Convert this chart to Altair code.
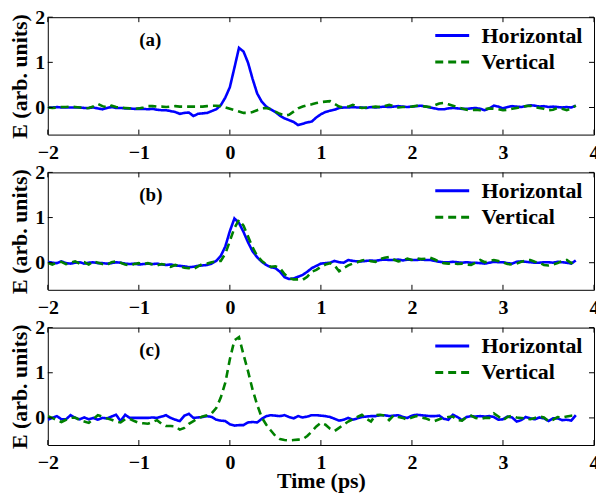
import altair as alt
import pandas as pd

T = [-2.00, -1.95, -1.90, -1.85, -1.80, -1.75, -1.70, -1.65, -1.60, -1.55,
     -1.50, -1.45, -1.40, -1.35, -1.30, -1.25, -1.20, -1.15, -1.10, -1.05,
     -1.00, -0.95, -0.90, -0.85, -0.80, -0.75, -0.70, -0.65, -0.60, -0.55,
     -0.50, -0.45, -0.40, -0.35, -0.30, -0.25, -0.20, -0.15, -0.10, -0.05,
     0.00, 0.05, 0.10, 0.15, 0.20, 0.25, 0.30, 0.35, 0.40, 0.45,
     0.50, 0.55, 0.60, 0.65, 0.70, 0.75, 0.80, 0.85, 0.90, 0.95,
     1.00, 1.05, 1.10, 1.15, 1.20, 1.25, 1.30, 1.35, 1.40, 1.45,
     1.50, 1.55, 1.60, 1.65, 1.70, 1.75, 1.80, 1.85, 1.90, 1.95,
     2.00, 2.05, 2.10, 2.15, 2.20, 2.25, 2.30, 2.35, 2.40, 2.45,
     2.50, 2.55, 2.60, 2.65, 2.70, 2.75, 2.80, 2.85, 2.90, 2.95,
     3.00, 3.05, 3.10, 3.15, 3.20, 3.25, 3.30, 3.35, 3.40, 3.45,
     3.50, 3.55, 3.60, 3.65, 3.70, 3.75, 3.80]

# Panel (a)
H_A = [0.00, 0.00, 0.01, 0.00, 0.00, 0.00, 0.00, 0.00, -0.01, -0.01,
       0.00, -0.02, -0.04, -0.01, 0.01, -0.01, -0.01, -0.02, -0.02, -0.03,
       -0.03, -0.03, -0.04, -0.03, -0.05, -0.06, -0.06, -0.08, -0.10, -0.14,
       -0.12, -0.11, -0.19, -0.14, -0.13, -0.12, -0.08, -0.04, 0.05, 0.22,
       0.45, 0.88, 1.32, 1.24, 0.99, 0.63, 0.31, 0.13, 0.02, -0.04,
       -0.10, -0.18, -0.24, -0.28, -0.32, -0.39, -0.36, -0.33, -0.31, -0.22,
       -0.15, -0.10, -0.07, -0.05, -0.01, 0.00, 0.00, 0.01, 0.00, 0.00,
       -0.01, 0.01, 0.00, 0.01, 0.02, 0.01, 0.02, 0.03, 0.02, 0.01,
       0.02, 0.03, 0.04, 0.02, 0.00, -0.02, -0.04, -0.04, -0.02, -0.01,
       -0.02, -0.03, -0.03, -0.02, -0.01, -0.03, -0.06, -0.02, 0.04, 0.02,
       -0.02, 0.01, 0.03, 0.02, 0.01, 0.03, 0.05, 0.04, 0.02, 0.03,
       0.01, 0.02, 0.01, 0.00, 0.01, 0.00, 0.04]
V_A = [0.00, -0.01, 0.00, 0.01, 0.01, 0.02, 0.01, 0.00, -0.02, -0.01,
       0.02, 0.08, 0.03, 0.00, 0.04, 0.01, 0.00, -0.01, -0.02, -0.03,
       -0.02, 0.00, 0.03, 0.03, 0.02, 0.02, 0.01, 0.02, 0.03, 0.02,
       0.02, 0.02, 0.02, 0.02, 0.02, 0.03, 0.04, 0.04, 0.03, 0.00,
       -0.03, -0.06, -0.09, -0.12, -0.12, -0.10, -0.06, -0.02, -0.01, -0.04,
       -0.09, -0.14, -0.18, -0.16, -0.09, -0.02, 0.02, 0.05, 0.07, 0.10,
       0.12, 0.13, 0.14, 0.08, 0.02, 0.00, 0.02, 0.06, 0.02, -0.01,
       0.00, 0.01, 0.02, 0.01, 0.03, 0.06, 0.03, 0.00, 0.01, 0.01,
       0.02, 0.04, 0.03, 0.02, 0.01, 0.05, 0.09, 0.10, 0.07, 0.04,
       0.01, -0.02, -0.05, -0.06, -0.05, -0.06, -0.04, -0.02, -0.03, -0.04,
       -0.06, -0.05, -0.03, -0.01, 0.01, 0.03, 0.04, 0.01, -0.01, -0.03,
       -0.06, -0.05, -0.01, -0.03, -0.06, -0.02, 0.04]

# Panel (b)
H_B = [0.02, 0.00, -0.01, 0.03, -0.01, -0.02, 0.00, 0.01, -0.02, 0.00,
       0.01, -0.01, -0.01, -0.02, -0.01, 0.01, 0.00, -0.02, -0.03, -0.02,
       -0.04, -0.03, -0.02, -0.03, -0.02, -0.04, -0.05, -0.04, -0.06, -0.07,
       -0.08, -0.10, -0.09, -0.07, -0.06, -0.05, -0.02, 0.04, 0.15, 0.36,
       0.70, 0.98, 0.88, 0.68, 0.45, 0.25, 0.12, 0.02, -0.05, -0.10,
       -0.12, -0.20, -0.32, -0.36, -0.35, -0.31, -0.27, -0.20, -0.12, -0.07,
       -0.02, -0.01, 0.00, 0.04, 0.01, 0.00, 0.06, 0.04, 0.03, 0.03,
       0.04, 0.05, 0.04, 0.06, 0.07, 0.06, 0.06, 0.07, 0.05, 0.07,
       0.06, 0.06, 0.07, 0.06, 0.06, 0.04, 0.02, 0.01, 0.01, 0.02,
       0.01, 0.00, 0.01, 0.00, 0.00, -0.01, -0.02, 0.00, 0.02, 0.01,
       0.01, -0.01, -0.02, 0.02, 0.03, 0.02, 0.01, 0.00, 0.00, 0.01,
       0.01, 0.00, 0.02, 0.01, 0.00, -0.02, 0.05]
V_B = [0.00, -0.04, 0.00, 0.02, -0.03, 0.00, 0.03, -0.02, 0.01, -0.04,
       0.03, 0.00, -0.03, -0.05, 0.01, 0.03, 0.00, -0.04, -0.06, -0.03,
       -0.01, -0.03, -0.01, -0.04, -0.06, -0.03, -0.05, -0.09, -0.05, -0.08,
       -0.11, -0.12, -0.14, -0.08, -0.03, -0.02, 0.01, 0.03, 0.04, 0.20,
       0.48, 0.77, 0.95, 0.82, 0.58, 0.34, 0.15, 0.04, -0.04, -0.09,
       -0.08, -0.12, -0.25, -0.34, -0.37, -0.37, -0.38, -0.31, -0.20, -0.16,
       -0.09, -0.04, -0.01, -0.06, -0.19, -0.12, -0.06, -0.02, 0.01, 0.05,
       0.07, 0.03, 0.02, 0.08, 0.11, 0.13, 0.07, 0.03, 0.05, 0.09,
       0.06, 0.10, 0.08, 0.09, 0.11, 0.07, 0.02, -0.01, -0.02, -0.01,
       -0.03, -0.02, -0.04, -0.05, 0.00, 0.06, 0.01, 0.04, 0.06, 0.04,
       0.01, -0.03, -0.04, -0.02, 0.02, 0.05, 0.06, 0.02, 0.00, -0.05,
       -0.06, -0.04, -0.01, 0.04, 0.06, -0.01, 0.05]

# Panel (c)
H_C = [-0.04, 0.00, 0.04, -0.03, -0.03, 0.06, 0.00, -0.03, 0.01, -0.03,
       0.00, -0.04, 0.00, -0.01, 0.03, 0.07, -0.07, 0.07, 0.00, 0.00,
       0.00, 0.00, 0.00, 0.01, 0.00, 0.03, 0.06, 0.00, -0.04, -0.07,
       0.05, 0.09, 0.00, 0.01, 0.02, 0.04, 0.02, -0.04, -0.06, -0.07,
       -0.14, -0.17, -0.16, -0.16, -0.10, -0.09, -0.10, -0.02, 0.04, 0.06,
       0.05, 0.04, 0.06, 0.02, -0.01, 0.04, 0.01, 0.03, 0.06, 0.06,
       0.05, 0.04, 0.02, -0.02, -0.06, -0.04, 0.00, -0.04, -0.01, 0.02,
       0.03, 0.04, 0.04, 0.06, 0.06, 0.04, 0.05, 0.06, 0.02, 0.00,
       0.05, 0.07, 0.06, 0.05, 0.04, 0.04, 0.05, -0.02, -0.04, 0.07,
       0.02, -0.05, 0.02, 0.04, 0.03, 0.04, 0.03, 0.04, 0.02, -0.04,
       -0.03, 0.03, 0.01, -0.08, -0.05, 0.02, -0.01, -0.03, 0.01, -0.01,
       -0.07, -0.01, -0.01, -0.05, -0.04, -0.06, 0.06]
V_C = [0.04, 0.00, -0.05, -0.09, -0.04, 0.00, 0.01, -0.05, -0.08, -0.11,
       -0.02, 0.06, 0.03, -0.01, -0.04, -0.08, -0.10, -0.03, -0.02, -0.07,
       -0.11, -0.12, -0.13, -0.09, -0.05, -0.13, -0.18, -0.18, -0.19, -0.26,
       -0.22, -0.13, -0.07, -0.01, 0.03, 0.06, 0.10, 0.22, 0.45, 0.78,
       1.30, 1.72, 1.79, 1.40, 1.03, 0.62, 0.29, 0.01, -0.15, -0.28,
       -0.40, -0.47, -0.49, -0.50, -0.49, -0.48, -0.47, -0.40, -0.30, -0.19,
       -0.11, -0.15, -0.24, -0.29, -0.22, -0.15, -0.08, -0.03, 0.02, 0.07,
       -0.02, -0.08, 0.06, 0.07, 0.05, -0.05, 0.06, 0.02, 0.00, -0.04,
       0.01, 0.04, 0.01, -0.01, -0.05, -0.07, -0.03, 0.00, 0.02, 0.03,
       -0.05, -0.06, 0.02, 0.05, 0.00, -0.02, 0.00, 0.00, 0.10, 0.03,
       -0.05, 0.02, 0.05, 0.01, 0.00, -0.02, -0.03, 0.00, 0.03, 0.01,
       -0.07, -0.04, 0.02, 0.01, 0.03, 0.05, 0.06]

SERIES = ["Horizontal", "Vertical"]
COLORS = ["#0000ff", "#008000"]
DASHES = [[1, 0], [8, 5]]
X_TICKS = [-2, -1, 0, 1, 2, 3, 4]
Y_TICKS = [0, 1, 2]
PANEL_LABELS = ["(a)", "(b)", "(c)"]

W, H = 549, 118
FONT = "Liberation Serif"
TICK = 5


def panel(h_vals, v_vals, label, last):
    n = len(T)
    df = pd.DataFrame({
        "t": T + T,
        "E": h_vals + v_vals,
        "series": [SERIES[0]] * n + [SERIES[1]] * n,
    })
    xenc = alt.X("t:Q", scale=alt.Scale(domain=[-2, 4], nice=False, zero=False),
                 axis=alt.Axis(values=X_TICKS, format="d", labelPadding=8,
                               labelFlush=False, titlePadding=-2),
                 title="Time (ps)" if last else None)
    yenc = alt.Y("E:Q", scale=alt.Scale(domain=[-0.6, 2], nice=False, zero=False),
                 axis=alt.Axis(values=Y_TICKS, format="d", labelPadding=3,
                               labelFlush=False, titlePadding=3),
                 title="E (arb. units)")
    lines = alt.Chart(df).mark_line(strokeWidth=2.6, clip=True).encode(
        x=xenc,
        y=yenc,
        color=alt.Color("series:N",
                        scale=alt.Scale(domain=SERIES, range=COLORS),
                        title=None),
        strokeDash=alt.StrokeDash("series:N",
                                  scale=alt.Scale(domain=SERIES, range=DASHES),
                                  title=None),
    )
    xt = pd.DataFrame({"t": X_TICKS})
    yt = pd.DataFrame({"E": Y_TICKS})
    rule = dict(color="black", strokeWidth=1)
    xb = alt.Chart(xt).mark_rule(**rule).encode(x=xenc, y=alt.value(H), y2=alt.value(H - TICK))
    xtp = alt.Chart(xt).mark_rule(**rule).encode(x=xenc, y=alt.value(0), y2=alt.value(TICK))
    yl = alt.Chart(yt).mark_rule(**rule).encode(y=yenc, x=alt.value(0), x2=alt.value(TICK))
    yr = alt.Chart(yt).mark_rule(**rule).encode(y=yenc, x=alt.value(W), x2=alt.value(W - TICK))
    lab = alt.Chart(pd.DataFrame({"label": [label]})).mark_text(
        font=FONT, fontSize=19, fontWeight="bold", color="black",
        align="left", baseline="alphabetic",
    ).encode(text="label:N", x=alt.value(92), y=alt.value(29))
    return alt.layer(lines, xb, xtp, yl, yr, lab).properties(width=W, height=H)


chart = alt.vconcat(
    panel(H_A, V_A, PANEL_LABELS[0], False),
    panel(H_B, V_B, PANEL_LABELS[1], False),
    panel(H_C, V_C, PANEL_LABELS[2], True),
    spacing=38,
    bounds="flush",
).resolve_scale(
    color="independent", strokeDash="independent"
).configure(
    padding={"left": 0, "top": -3, "right": -4, "bottom": -1},
    background="white",
).configure_view(
    stroke="black", strokeWidth=1,
).configure_axis(
    domain=False, ticks=False, grid=False,
    labelFont=FONT, labelFontSize=20, labelFontWeight="bold", labelColor="black",
    titleFont=FONT, titleFontSize=22, titleFontWeight="bold", titleColor="black",
).configure_legend(
    orient="none", legendX=394, legendY=6,
    symbolType="M-1.55,0H1.55", symbolSize=484, symbolStrokeWidth=3,
    labelFont=FONT, labelFontSize=22, labelFontWeight="bold", labelColor="black",
    labelOffset=17, rowPadding=2.6, padding=0,
)

chart.save("out.html", embed_options={"renderer": "svg", "actions": False})
